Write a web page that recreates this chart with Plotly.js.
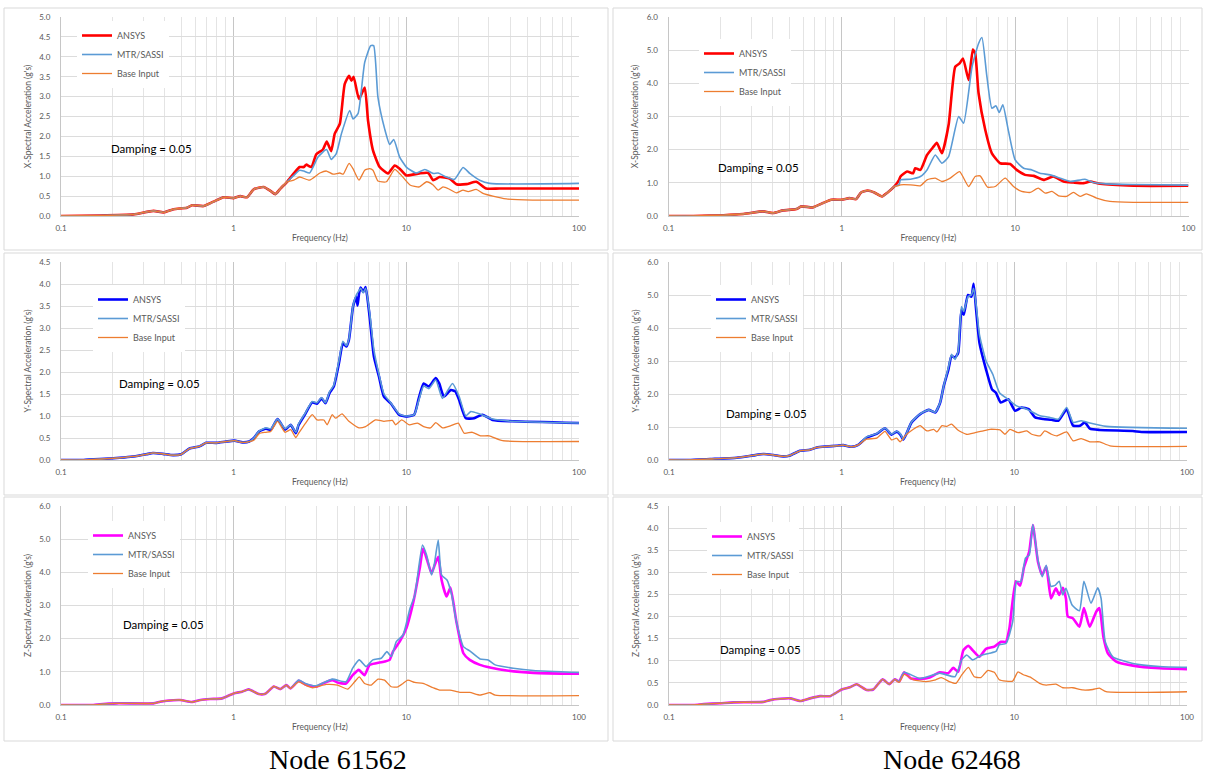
<!DOCTYPE html>
<html>
<head>
<meta charset="utf-8">
<script src="https://cdn.plot.ly/plotly-3.0.1.min.js"></script>
<style>
html,body{margin:0;padding:0;background:#fff;}
#chart{width:1206px;height:774px;}
</style>
</head>
<body>
<div id="chart"></div>
<script>
// ---------------- DATA ----------------
const seriesNames = ['ANSYS', 'MTR/SASSI', 'Base Input'];
const nodeCaptions = ['Node 61562', 'Node 62468'];
const dampingText = 'Damping = 0.05';
const yTitles = ["X-Spectral Acceleration (g's)", "Y-Spectral Acceleration (g's)", "Z-Spectral Acceleration (g's)"];
const xTitle = 'Frequency (Hz)';
const xTickVals = [0.1, 1, 10, 100];
const xTickText = ['0.1', '1', '10', '100'];

// Panel 1: X direction, Node 61562
const x61562_lowF = [0.1, 0.168, 0.263, 0.343, 0.393, 0.449, 0.536, 0.574, 0.67, 0.765, 0.875, 1.0, 1.093, 1.195, 1.306, 1.493, 1.633, 1.745, 1.866, 2.04];
const x61562_lowV = [0, 0.01, 0.04, 0.13, 0.09, 0.17, 0.21, 0.27, 0.25, 0.36, 0.47, 0.45, 0.5, 0.47, 0.67, 0.73, 0.63, 0.55, 0.69, 0.86];
const x61562_ansF = [2.23, 2.41, 2.55, 2.63, 2.82, 3.01, 3.29, 3.46, 3.67, 3.85, 4.12, 4.40, 4.66, 4.81, 4.95, 5.32, 5.74, 6.00, 6.41, 7.01, 7.83, 8.56, 9.15, 10, 11.9, 13.4, 14.3, 15.6, 17.8, 19.5, 22.3, 25.4, 29.0, 34.7, 100];
const x61562_ansV = [1.07, 1.23, 1.23, 1.29, 1.23, 1.55, 1.67, 1.87, 1.63, 2.07, 2.32, 3.32, 3.52, 3.4, 3.5, 2.94, 3.23, 2.4, 1.65, 1.23, 1.07, 1.27, 1.19, 1.02, 1.07, 1.08, 0.9, 0.98, 0.94, 0.8, 0.8, 0.86, 0.69, 0.69, 0.69];
const x61562_mtrF = [2.23, 2.41, 2.55, 2.75, 3.08, 3.45, 3.67, 3.93, 4.21, 4.70, 4.91, 5.25, 5.74, 6.22, 6.47, 6.85, 7.49, 8.01, 8.45, 9.15, 10, 11.4, 12.8, 14.3, 15.3, 17.0, 19.0, 21.3, 23.3, 26.6, 30.4, 100];
const x61562_mtrV = [1.02, 1.15, 1.13, 1.08, 1.48, 1.67, 1.42, 1.57, 2.07, 2.65, 2.44, 2.57, 3.86, 4.28, 4.28, 2.98, 2.19, 1.8, 1.92, 1.48, 1.23, 1.08, 1.17, 1.07, 1.08, 0.98, 0.92, 1.22, 1.07, 0.9, 0.82, 0.82];
const x61562_baseF = [2.23, 2.41, 2.75, 3.16, 3.45, 3.76, 4.12, 4.31, 4.66, 4.91, 5.32, 5.74, 6.13, 6.41, 6.85, 7.66, 8.56, 9.36, 10.5, 11.9, 13.1, 14.3, 15.3, 16.3, 17.8, 19.5, 21.3, 22.8, 25.4, 27.8, 31.7, 37.9, 53.9, 100];
const x61562_baseV = [0.9, 0.98, 0.9, 1.08, 1.13, 1.05, 1.08, 1.05, 1.32, 1.19, 0.9, 1.15, 1.19, 1.15, 0.88, 0.86, 1.17, 1.02, 0.78, 0.73, 0.86, 0.78, 0.65, 0.73, 0.67, 0.58, 0.65, 0.61, 0.67, 0.57, 0.5, 0.43, 0.4, 0.4];

// Panel 2: X direction, Node 62468
const x62468_lowF = [0.1, 0.139, 0.27, 0.351, 0.401, 0.458, 0.547, 0.584, 0.681, 0.778, 0.868, 1.0, 1.107, 1.209, 1.291, 1.41, 1.54, 1.705, 1.837, 2.01];
const x62468_lowV = [0, 0, 0.06, 0.14, 0.09, 0.17, 0.21, 0.29, 0.26, 0.39, 0.49, 0.49, 0.54, 0.51, 0.71, 0.77, 0.71, 0.59, 0.71, 0.89];
const x62468_ansF = [2.14, 2.18, 2.38, 2.58, 2.65, 2.84, 3.10, 3.38, 3.53, 3.78, 4.13, 4.51, 4.78, 5.00, 5.39, 5.70, 5.88, 6.15, 6.72, 7.34, 8.19, 9.36, 10.2, 11.4, 12.8, 14.6, 16.6, 19.0, 21.7, 24.8, 27.1, 30.9, 48.1, 100];
const x62468_ansV = [1.09, 1.19, 1.34, 1.29, 1.44, 1.39, 1.84, 2.09, 2.21, 1.89, 2.75, 4.5, 4.6, 4.75, 4.1, 5.02, 4.9, 3.7, 2.6, 1.89, 1.59, 1.57, 1.39, 1.24, 1.21, 1.09, 1.19, 1.04, 1.01, 0.99, 1.04, 0.97, 0.91, 0.91];
const x62468_mtrF = [2.14, 2.18, 2.49, 2.84, 3.10, 3.46, 3.78, 4.13, 4.72, 5.04, 5.64, 6.15, 6.43, 6.87, 7.34, 7.75, 8.09, 8.49, 9.16, 10, 11.2, 12.5, 13.9, 15.9, 18.2, 20.8, 25.3, 28.2, 33.7, 48.1, 100];
const x62468_mtrV = [0.95, 1.09, 1.11, 1.19, 1.39, 1.84, 1.59, 1.79, 3.0, 2.8, 4.5, 5.2, 5.38, 4.2, 3.25, 3.32, 3.12, 3.35, 2.55, 1.69, 1.44, 1.39, 1.29, 1.24, 1.14, 1.04, 1.11, 1.01, 0.97, 0.95, 0.93];
const x62468_baseF = [2.14, 2.18, 2.49, 2.84, 3.10, 3.46, 3.78, 4.22, 4.78, 5.39, 5.88, 6.28, 6.93, 7.67, 8.76, 9.78, 10.9, 12.2, 13.6, 14.9, 16.3, 17.8, 19.8, 21.7, 23.7, 25.8, 29.5, 35.2, 48.1, 100];
const x62468_baseV = [0.92, 0.94, 0.94, 0.91, 1.09, 1.14, 1.04, 1.14, 1.34, 0.89, 1.19, 1.21, 0.87, 0.89, 1.14, 0.89, 0.74, 0.71, 0.84, 0.69, 0.74, 0.61, 0.59, 0.71, 0.59, 0.67, 0.54, 0.44, 0.41, 0.41];

// Panel 3: Y direction, Node 61562
const y61562_lowF = [0.1, 0.135, 0.168, 0.219, 0.262, 0.312, 0.341, 0.389, 0.445, 0.497, 0.555, 0.634, 0.692, 0.791, 0.903, 1.01, 1.127, 1.231];
const y61562_lowV = [0, 0, 0.02, 0.05, 0.08, 0.13, 0.16, 0.14, 0.11, 0.13, 0.26, 0.31, 0.39, 0.39, 0.42, 0.44, 0.40, 0.42];
const y61562_ansF = [1.31, 1.406, 1.536, 1.642, 1.795, 1.986, 2.14, 2.29, 2.38, 2.61, 2.85, 3.04, 3.23, 3.40, 3.59, 3.80, 4.07, 4.29, 4.49, 4.65, 4.91, 5.13, 5.22, 5.32, 5.44, 5.63, 5.81, 6.13, 6.49, 6.94, 7.42, 8.12, 9.07, 9.91, 11.1, 11.8, 12.6, 13.5, 14.8, 15.5, 16.5, 18.1, 19.2, 20.2, 22.1, 24.7, 27.6, 31.6, 41.2, 100];
const y61562_ansV = [0.5, 0.65, 0.71, 0.69, 0.93, 0.69, 0.8, 0.61, 0.8, 1.06, 1.31, 1.28, 1.4, 1.29, 1.52, 1.67, 2.2, 2.65, 2.58, 2.73, 3.48, 3.71, 3.51, 3.78, 3.92, 3.82, 3.93, 3.26, 2.35, 1.9, 1.44, 1.29, 1.03, 0.99, 1.03, 1.4, 1.74, 1.67, 1.86, 1.74, 1.44, 1.59, 1.56, 1.37, 0.95, 0.95, 1.03, 0.91, 0.88, 0.84];
const y61562_mtrF = [1.31, 1.406, 1.536, 1.642, 1.795, 1.986, 2.14, 2.29, 2.38, 2.61, 2.85, 3.04, 3.23, 3.40, 3.59, 3.80, 4.07, 4.29, 4.49, 4.65, 4.91, 5.13, 5.32, 5.44, 5.63, 5.81, 6.13, 6.49, 6.94, 7.42, 8.12, 9.07, 9.91, 11.1, 11.8, 12.6, 13.5, 14.8, 16.2, 18.5, 20.2, 22.1, 23.6, 26.4, 31.6, 41.2, 100];
const y61562_mtrV = [0.5, 0.66, 0.73, 0.71, 0.93, 0.71, 0.8, 0.63, 0.82, 1.08, 1.33, 1.3, 1.42, 1.3, 1.55, 1.7, 2.25, 2.7, 2.6, 2.75, 3.5, 3.75, 3.85, 3.9, 3.8, 3.9, 3.35, 2.5, 1.95, 1.5, 1.3, 1.05, 1.0, 1.03, 1.35, 1.68, 1.62, 1.82, 1.4, 1.74, 1.45, 1.0, 1.1, 1.05, 0.93, 0.88, 0.84];
const y61562_baseF = [1.31, 1.406, 1.536, 1.642, 1.795, 1.986, 2.14, 2.29, 2.38, 2.61, 2.85, 3.04, 3.33, 3.48, 3.72, 3.89, 4.24, 4.65, 5.32, 5.81, 6.64, 7.42, 8.3, 8.67, 9.4, 10.4, 11.6, 12.6, 13.8, 14.8, 16.2, 18.1, 20.0, 21.6, 24.1, 26.9, 30.2, 36.1, 100];
const y61562_baseV = [0.45, 0.6, 0.63, 0.65, 0.88, 0.63, 0.69, 0.51, 0.61, 0.84, 1.03, 0.91, 0.91, 0.8, 1.03, 0.95, 1.05, 0.88, 0.73, 0.76, 0.91, 0.88, 0.9, 0.8, 0.91, 0.8, 0.84, 0.76, 0.73, 0.85, 0.73, 0.78, 0.84, 0.61, 0.63, 0.55, 0.55, 0.44, 0.42];

// Panel 4: Y direction, Node 62468
const y62468_lowF = [0.1, 0.13, 0.173, 0.247, 0.308, 0.353, 0.403, 0.46, 0.503, 0.574, 0.656, 0.717, 0.819, 0.936, 1.02, 1.142, 1.248];
const y62468_lowV = [0, 0, 0.03, 0.07, 0.14, 0.18, 0.15, 0.11, 0.14, 0.28, 0.31, 0.38, 0.41, 0.43, 0.45, 0.40, 0.46];
const y62468_ansF = [1.395, 1.594, 1.781, 1.946, 2.08, 2.18, 2.28, 2.54, 2.85, 3.19, 3.48, 3.72, 3.9, 4.15, 4.33, 4.53, 4.73, 4.94, 5.09, 5.39, 5.64, 5.81, 6.01, 6.28, 6.86, 7.43, 7.82, 8.35, 9.23, 10.1, 11.0, 12.1, 13.2, 14.7, 16.4, 18.0, 20.1, 21.9, 24.0, 25.6, 27.4, 31.2, 48.6, 54.4, 100];
const y62468_ansV = [0.68, 0.79, 0.96, 0.77, 0.86, 0.78, 0.62, 1.14, 1.39, 1.52, 1.44, 1.74, 2.24, 2.74, 3.15, 3.1, 3.25, 4.55, 4.4, 5.0, 4.95, 5.34, 4.55, 3.55, 2.74, 2.14, 2.04, 1.74, 1.84, 1.49, 1.59, 1.54, 1.29, 1.24, 1.22, 1.19, 1.54, 1.04, 1.04, 1.14, 0.95, 0.91, 0.88, 0.85, 0.85];
const y62468_mtrF = [1.395, 1.594, 1.781, 1.946, 2.08, 2.18, 2.28, 2.54, 2.85, 3.19, 3.48, 3.72, 3.9, 4.15, 4.33, 4.53, 4.73, 4.94, 5.09, 5.39, 5.64, 5.81, 6.01, 6.28, 6.86, 7.5, 8.2, 9.2, 10.3, 11.8, 14.1, 16.1, 18.0, 20.1, 21.9, 24.4, 27.4, 34.1, 100];
const y62468_mtrV = [0.7, 0.8, 0.97, 0.78, 0.87, 0.8, 0.63, 1.15, 1.4, 1.52, 1.45, 1.75, 2.25, 2.8, 3.2, 3.05, 3.3, 4.65, 4.5, 4.95, 5.0, 5.2, 4.7, 3.8, 3.0, 2.6, 2.04, 1.84, 1.64, 1.54, 1.34, 1.29, 1.24, 1.59, 1.14, 1.19, 1.12, 1.02, 0.96];
const y62468_baseF = [1.395, 1.594, 1.781, 1.946, 2.08, 2.18, 2.33, 2.60, 2.85, 3.12, 3.41, 3.56, 3.81, 4.07, 4.33, 4.73, 5.28, 5.93, 6.62, 7.23, 8.26, 8.82, 9.44, 10.5, 11.8, 12.6, 14.1, 15.0, 16.4, 17.6, 20.1, 21.9, 24.4, 27.4, 31.2, 35.8, 100];
const y62468_baseV = [0.63, 0.66, 0.87, 0.61, 0.66, 0.55, 0.73, 0.93, 1.04, 0.88, 0.93, 0.85, 1.04, 1.02, 1.09, 0.9, 0.78, 0.83, 0.88, 0.93, 0.91, 0.78, 0.93, 0.83, 0.88, 0.78, 0.73, 0.88, 0.78, 0.73, 0.85, 0.58, 0.65, 0.55, 0.55, 0.43, 0.41];

// Panel 5: Z direction, Node 61562
const z61562_lowF = [0.1, 0.154, 0.168, 0.21, 0.343, 0.375, 0.41, 0.49, 0.573, 0.641, 0.732, 0.856, 1.0, 1.118, 1.222, 1.397, 1.527, 1.708, 1.865, 2.02, 2.13];
const z61562_lowV = [0, 0, 0.02, 0.05, 0.05, 0.1, 0.13, 0.15, 0.09, 0.15, 0.18, 0.2, 0.35, 0.4, 0.47, 0.33, 0.34, 0.56, 0.48, 0.6, 0.5];
const z61562_ansF = [2.38, 2.6, 3.0, 3.28, 3.73, 3.99, 4.47, 4.89, 5.3, 5.73, 6.12, 6.69, 7.48, 8.0, 8.37, 9.15, 10, 10.7, 11.2, 12.0, 12.5, 13.2, 14.0, 14.6, 15.3, 16.0, 17.1, 18.0, 19.5, 21.4, 23.3, 26.7, 30.5, 38.2, 54.5, 100];
const z61562_ansV = [0.73, 0.62, 0.55, 0.65, 0.75, 0.68, 0.65, 0.9, 1.06, 0.9, 1.21, 1.26, 1.31, 1.36, 1.61, 1.91, 2.31, 2.86, 3.32, 4.17, 4.72, 4.37, 3.97, 4.22, 4.47, 3.77, 3.27, 3.54, 2.51, 1.56, 1.36, 1.21, 1.13, 1.04, 0.97, 0.94];
const z61562_mtrF = [2.38, 2.6, 3.0, 3.73, 4.47, 4.89, 5.34, 5.85, 6.4, 7.16, 7.72, 8.18, 8.75, 9.57, 10.5, 11.2, 12.4, 13.1, 14.0, 14.5, 15.3, 16.0, 17.2, 18.3, 19.5, 21.4, 23.3, 26.7, 29.8, 32.7, 41.6, 54.5, 100];
const z61562_mtrV = [0.75, 0.65, 0.58, 0.78, 0.7, 1.11, 1.36, 1.16, 1.36, 1.41, 1.61, 1.46, 1.91, 2.11, 2.91, 3.32, 4.82, 4.52, 3.92, 4.22, 4.97, 3.92, 3.77, 3.32, 2.51, 1.76, 1.63, 1.39, 1.36, 1.21, 1.11, 1.04, 0.98];
const z61562_baseF = [2.38, 2.6, 2.87, 3.44, 3.99, 4.58, 5.02, 5.34, 5.73, 6.26, 6.85, 7.48, 8.18, 8.95, 9.57, 10.2, 11.2, 12.5, 14.3, 15.6, 17.9, 20.4, 23.3, 26.7, 30.5, 32.7, 100];
const z61562_baseV = [0.7, 0.6, 0.52, 0.62, 0.6, 0.48, 0.7, 0.85, 0.65, 0.6, 0.78, 0.75, 0.55, 0.55, 0.65, 0.75, 0.68, 0.65, 0.52, 0.45, 0.45, 0.38, 0.38, 0.3, 0.37, 0.3, 0.28];

// Panel 6: Z direction, Node 62468
const z62468_lowF = [0.1, 0.139, 0.159, 0.198, 0.237, 0.353, 0.385, 0.44, 0.503, 0.575, 0.656, 0.75, 0.856, 1.0, 1.117, 1.22, 1.395, 1.525, 1.726, 1.886, 2.03];
const z62468_lowV = [0, 0, 0.02, 0.04, 0.06, 0.07, 0.11, 0.14, 0.15, 0.09, 0.15, 0.2, 0.2, 0.35, 0.4, 0.47, 0.34, 0.35, 0.58, 0.47, 0.58];
const z62468_ansF = [2.15, 2.30, 2.52, 2.84, 3.23, 3.70, 4.14, 4.43, 4.73, 5.07, 5.42, 5.73, 6.27, 6.85, 7.66, 8.37, 8.95, 9.36, 10.2, 10.8, 11.4, 12.2, 12.8, 13.7, 14.5, 15.3, 16.3, 17.4, 18.2, 19.1, 19.9, 20.4, 21.8, 23.8, 25.3, 27.3, 29.8, 31.1, 32.8, 34.8, 38.9, 48.6, 69.4, 100];
const z62468_ansV = [0.53, 0.74, 0.6, 0.59, 0.62, 0.74, 0.72, 0.84, 0.75, 1.24, 1.34, 1.24, 1.09, 1.27, 1.32, 1.43, 1.43, 1.73, 2.8, 2.7, 3.13, 3.47, 4.07, 3.24, 2.94, 3.13, 2.41, 2.64, 2.49, 2.65, 2.41, 2.0, 1.96, 1.77, 2.19, 1.77, 2.11, 2.19, 1.54, 1.17, 0.98, 0.89, 0.83, 0.81];
const z62468_mtrF = [2.15, 2.30, 2.84, 3.70, 4.53, 4.96, 5.30, 5.73, 6.40, 7.17, 7.83, 8.18, 8.95, 9.78, 10.3, 10.9, 11.6, 12.2, 12.8, 13.7, 14.5, 15.3, 16.3, 17.3, 18.2, 19.1, 19.9, 21.6, 23.8, 25.3, 27.8, 30.4, 31.8, 33.6, 37.2, 48.6, 69.4, 100];
const z62468_mtrV = [0.53, 0.74, 0.6, 0.72, 0.64, 1.02, 1.13, 1.02, 1.12, 1.17, 1.21, 1.36, 1.39, 1.88, 2.79, 2.79, 3.32, 3.39, 4.08, 3.28, 2.9, 3.16, 2.68, 2.71, 2.8, 2.49, 2.64, 2.26, 2.13, 2.8, 2.3, 2.65, 2.41, 1.43, 1.09, 0.94, 0.87, 0.85];
const z62468_baseF = [2.15, 2.30, 2.61, 3.07, 3.5, 3.78, 4.2, 4.59, 4.96, 5.42, 5.86, 6.4, 7.0, 7.66, 8.18, 8.95, 9.78, 10.5, 11.2, 12.5, 14.0, 15.3, 17.4, 19.1, 21.8, 24.9, 28.5, 31.1, 34.0, 100];
const z62468_baseV = [0.51, 0.69, 0.57, 0.53, 0.57, 0.62, 0.53, 0.49, 0.68, 0.85, 0.64, 0.62, 0.78, 0.74, 0.57, 0.54, 0.54, 0.75, 0.69, 0.62, 0.49, 0.45, 0.47, 0.39, 0.39, 0.34, 0.35, 0.38, 0.3, 0.3];

// ---------------- PANEL CONFIG (data references + styling/placement) ----------------
const W = 1206, H = 774;
const panels = [
  {low:[x61562_lowF,x61562_lowV], ans:[x61562_ansF,x61562_ansV], mtr:[x61562_mtrF,x61562_mtrV], base:[x61562_baseF,x61562_baseV],
   dir:0, ansColor:'#FF0000', ymax:5, dtick:0.5, px:[61,579], py:[17,216], leg:[86,34], damp:[151,148], frame:[4,8,608,250]},
  {low:[x62468_lowF,x62468_lowV], ans:[x62468_ansF,x62468_ansV], mtr:[x62468_mtrF,x62468_mtrV], base:[x62468_baseF,x62468_baseV],
   dir:0, ansColor:'#FF0000', ymax:6, dtick:1, px:[668.5,1188.5], py:[17,216], leg:[708,52], damp:[758,167], frame:[613,8,1202,250]},
  {low:[y61562_lowF,y61562_lowV], ans:[y61562_ansF,y61562_ansV], mtr:[y61562_mtrF,y61562_mtrV], base:[y61562_baseF,y61562_baseV],
   dir:1, ansColor:'#0000FF', ymax:4.5, dtick:0.5, px:[61,579], py:[262,460], leg:[102,298], damp:[159,383], frame:[4,253,608,495]},
  {low:[y62468_lowF,y62468_lowV], ans:[y62468_ansF,y62468_ansV], mtr:[y62468_mtrF,y62468_mtrV], base:[y62468_baseF,y62468_baseV],
   dir:1, ansColor:'#0000FF', ymax:6, dtick:1, px:[669,1187], py:[262,460], leg:[720,298], damp:[766,413], frame:[613,253,1202,495]},
  {low:[z61562_lowF,z61562_lowV], ans:[z61562_ansF,z61562_ansV], mtr:[z61562_mtrF,z61562_mtrV], base:[z61562_baseF,z61562_baseV],
   dir:2, ansColor:'#FF00FF', ymax:6, dtick:1, px:[61,579], py:[506,705], leg:[97,534], damp:[163,624], frame:[4,497,608,741]},
  {low:[z62468_lowF,z62468_lowV], ans:[z62468_ansF,z62468_ansV], mtr:[z62468_mtrF,z62468_mtrV], base:[z62468_baseF,z62468_baseV],
   dir:2, ansColor:'#FF00FF', ymax:4.5, dtick:0.5, px:[669,1187], py:[506,705], leg:[716,535], damp:[760,649], frame:[613,497,1202,741]}
];
const mtrColor = '#5B9BD5';
const baseColor = '#ED7D31';
const tickFont = {family:'Lato, "Open Sans", sans-serif', size:8, color:'#595959'};
const titleFont = {family:'Lato, "Open Sans", sans-serif', size:8.5, color:'#595959'};
const minorVals = [];
[0.1, 1, 10].forEach(d => { for (let k = 2; k <= 9; k++) minorVals.push(+(d*k).toFixed(3)); });

const data = [];
const layout = {
  width: W, height: H,
  margin: {l:0, r:0, t:0, b:0},
  paper_bgcolor: '#ffffff', plot_bgcolor: '#ffffff',
  showlegend: true,
  shapes: [], annotations: []
};

panels.forEach((p, i) => {
  const n = i + 1;
  const xa = n === 1 ? 'x' : 'x' + n;
  const ya = n === 1 ? 'y' : 'y' + n;
  const legName = n === 1 ? 'legend' : 'legend' + n;
  const lowF = p.low[0], lowV = p.low[1];
  const series = [
    {name: seriesNames[0], f: p.ans[0], v: p.ans[1], color: p.ansColor, width: 2.6},
    {name: seriesNames[1], f: p.mtr[0], v: p.mtr[1], color: mtrColor, width: 1.6},
    {name: seriesNames[2], f: p.base[0], v: p.base[1], color: baseColor, width: 1.3}
  ];
  series.forEach(s => {
    data.push({
      type: 'scatter', mode: 'lines',
      x: lowF.concat(s.f), y: lowV.concat(s.v),
      name: s.name, xaxis: xa, yaxis: ya, legend: legName,
      line: {color: s.color, width: s.width, shape: 'spline', smoothing: 0.5},
      hoverinfo: 'x+y+name'
    });
  });

  const xKey = n === 1 ? 'xaxis' : 'xaxis' + n;
  const yKey = n === 1 ? 'yaxis' : 'yaxis' + n;
  layout[xKey] = {
    type: 'log', range: [-1, 2], anchor: ya,
    domain: [p.px[0]/W, p.px[1]/W],
    tickmode: 'array', tickvals: xTickVals, ticktext: xTickText,
    ticks: '', showgrid: true, gridcolor: '#c6c6c6', gridwidth: 1,
    minor: {tickvals: minorVals, showgrid: true, gridcolor: '#e4e4e4', gridwidth: 1, ticks: ''},
    showline: true, linecolor: '#c6c6c6', linewidth: 1, mirror: false,
    zeroline: false, tickfont: tickFont, ticklabelstandoff: 4,
    title: {text: xTitle, font: titleFont, standoff: 3},
    automargin: false, fixedrange: true
  };
  layout[yKey] = {
    range: [0, p.ymax], anchor: xa,
    domain: [1 - p.py[1]/H, 1 - p.py[0]/H],
    dtick: p.dtick, tick0: 0, tickformat: '.1f',
    ticks: '', showgrid: true, gridcolor: '#dcdcdc', gridwidth: 1,
    showline: true, linecolor: '#c6c6c6', linewidth: 1,
    zeroline: false, tickfont: tickFont, ticklabelstandoff: 8,
    title: {text: yTitles[p.dir], font: titleFont, standoff: 6},
    automargin: false, fixedrange: true
  };
  layout[legName] = {
    x: (p.leg[0] - 9)/W, y: 1 - (p.leg[1] - 13)/H,
    xanchor: 'left', yanchor: 'top',
    bgcolor: '#ffffff', borderwidth: 0,
    font: {family:'Lato, "Open Sans", sans-serif', size: 9, color:'#595959'},
    tracegroupgap: 0, traceorder: 'normal'
  };
  layout.shapes.push({
    type: 'rect', xref: 'paper', yref: 'paper', layer: 'below',
    x0: p.frame[0]/W, x1: p.frame[2]/W, y0: 1 - p.frame[3]/H, y1: 1 - p.frame[1]/H,
    line: {color: '#d9d9d9', width: 1}, fillcolor: 'rgba(0,0,0,0)'
  });
  layout.annotations.push({
    text: dampingText, xref: 'paper', yref: 'paper',
    x: p.damp[0]/W, y: 1 - p.damp[1]/H, xanchor: 'center', yanchor: 'middle',
    showarrow: false, font: {family:'Lato, "Open Sans", sans-serif', size: 11.5, color:'#000000'}
  });
});

// Node captions below each column
[[338, nodeCaptions[0]], [952, nodeCaptions[1]]].forEach(c => {
  layout.annotations.push({
    text: c[1], xref: 'paper', yref: 'paper', x: c[0]/W, y: 1 - 759/H,
    xanchor: 'center', yanchor: 'middle', showarrow: false,
    font: {family: '"Liberation Serif", "Times New Roman", serif', size: 28, color: '#000000'}
  });
});

Plotly.newPlot('chart', data, layout, {displayModeBar: false, staticPlot: false, responsive: false});
</script>
</body>
</html>
